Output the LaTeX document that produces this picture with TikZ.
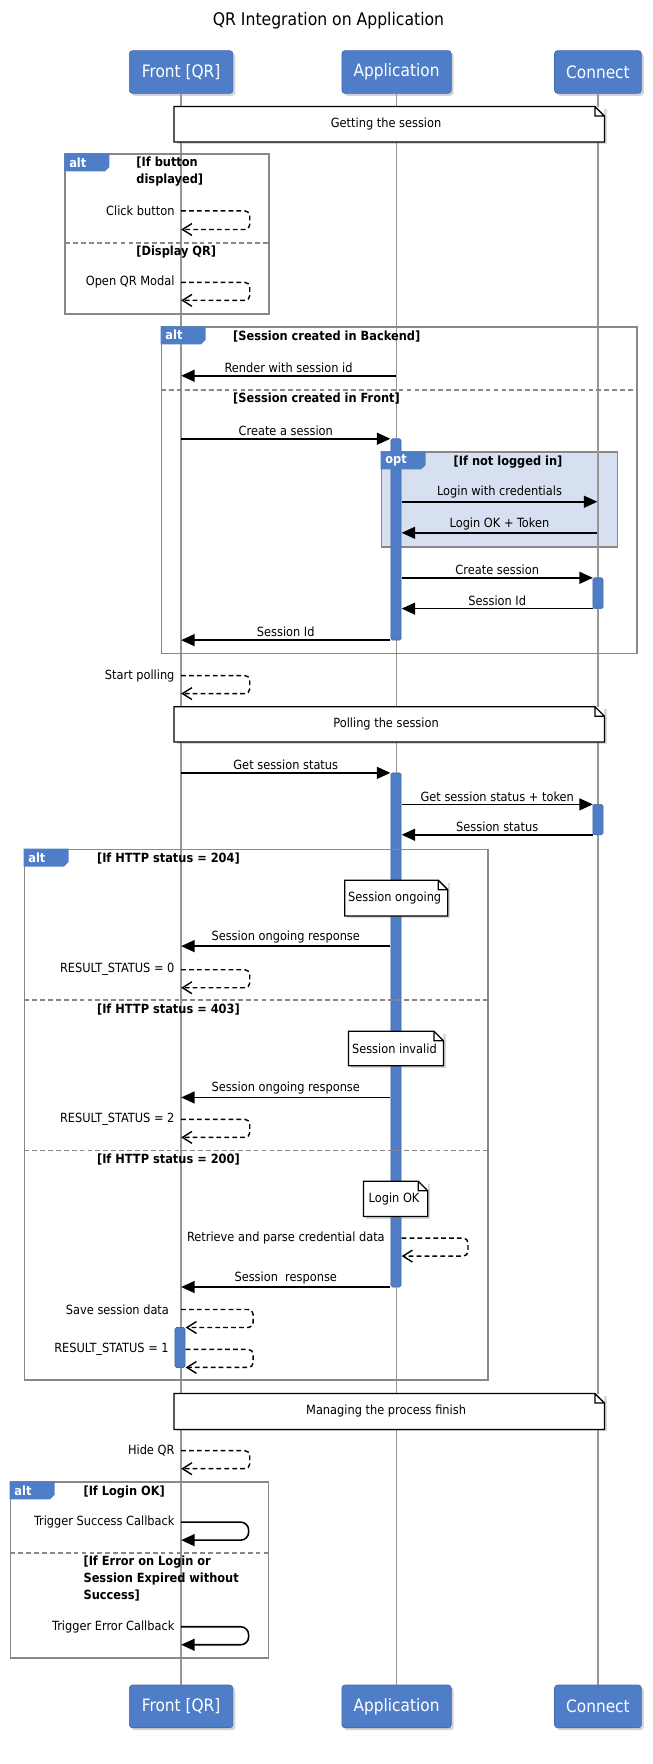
\documentclass[tikz,border=0pt]{standalone}
\usepackage{fontspec}
\setmainfont{DejaVu Sans Condensed}
\usepackage{tikz}
\usetikzlibrary{arrows.meta,positioning,fit,shadows}
\definecolor{umlblue}{RGB}{79,125,200}
\definecolor{optfill}{RGB}{214,224,240}
\definecolor{framegray}{RGB}{136,136,136}
\definecolor{linegray}{RGB}{150,150,150}

\begin{document}
\begin{tikzpicture}[
  x=0.025cm, y=-0.025cm,
  font=\fontsize{8}{10}\selectfont,
  actor/.style={draw=umlblue!85!black, fill=umlblue, rounded corners=2pt, minimum height=0.95cm, text=white,
    font=\fontsize{10.8}{13}\selectfont, drop shadow={shadow xshift=1.5pt, shadow yshift=-1.5pt, opacity=0.35}},
  lifeline/.style={draw=linegray, line width=0.9pt},
  act/.style={draw=umlblue!85!black, fill=umlblue, rounded corners=1pt, inner sep=0pt},
  note/.style={fill=white, inner sep=0pt, drop shadow={shadow xshift=1.5pt, shadow yshift=-1.5pt, opacity=0.3}},
  notepen/.style={draw=black, line width=0.8pt},
  frame/.style={draw=framegray, line width=1pt, inner sep=0pt},
  sep/.style={draw=framegray, line width=1pt, dash pattern=on 3pt off 2pt},
  tabtext/.style={text=white, font=\bfseries\fontsize{8}{10}\selectfont, inner sep=0pt},
  guard/.style={font=\bfseries\fontsize{8}{10.7}\selectfont, align=left, inner sep=0pt},
  lbl/.style={inner sep=1.5pt},
  msg/.style={line width=1pt, -{Triangle[length=8.5pt, width=7.5pt]}},
  selfmsg/.style={line width=0.9pt, dash pattern=on 3pt off 2pt, rounded corners=3pt, -{Straight Barb[length=6pt, width=7.5pt]}},
  callmsg/.style={line width=1pt, rounded corners=5pt, -{Triangle[length=8.5pt, width=7.5pt]}},
]
\useasboundingbox (0,0) rectangle (580,1568);

\node[font=\fontsize{11}{13}\selectfont] (title) at (292,18.4) {QR Integration on Application};

% participants
\node[actor, minimum width=2.3cm] (front) at (161,64) {Front [QR]};
\node[actor, minimum width=2.43cm] (app) at (352.5,64) {Application};
\node[actor, minimum width=1.93cm] (conn) at (531.5,64) {Connect};
\node[actor, minimum width=2.3cm] (frontb) at (161,1516.8) {Front [QR]};
\node[actor, minimum width=2.43cm] (appb) at (352.5,1516.8) {Application};
\node[actor, minimum width=1.93cm] (connb) at (531.5,1516.8) {Connect};

\node[frame, fill=optfill, fit={(339,402) (549,486)}] (opt) {};

\draw[lifeline] (front) -- (frontb);
\draw[lifeline] (app) -- (appb);
\draw[lifeline] (conn) -- (connb);

% activations
\node[act, fit={(347.5,390) (356.5,569)}] (act1) {};
\node[act, fit={(527,513.6) (536,541)}] (act2) {};
\node[act, fit={(347.5,687) (356.5,1144)}] (act3) {};
\node[act, fit={(527,715) (536,742)}] (act4) {};
\node[act, fit={(155.5,1180) (164.5,1215.5)}] (act5) {};

% frames
\node[frame, fit={(58,137) (239,279)}] (alt1) {};
\node[frame, fit={(143.5,290.7) (566,580.8)}] (alt2) {};
\node[frame, fit={(21.6,755) (434,1226.5)}] (alt3) {};
\node[frame, fit={(9.3,1317.4) (238.7,1473.8)}] (alt4) {};
\draw[sep] (58,216) -- (239,216);
\draw[sep] (143.5,346.7) -- (566,346.7);
\draw[sep] (21.6,888.7) -- (434,888.7);
\draw[sep] (21.6,1022.5) -- (434,1022.5);
\draw[sep] (9.3,1380.4) -- (238.7,1380.4);

\foreach \f/\t in {alt1/alt, alt2/alt, opt/opt, alt3/alt, alt4/alt} {
  \fill[umlblue] (\f.north west) -- ++(40,0) -- ++(0,12) -- ++(-4,4) -- ++(-36,0) -- cycle;
  \node[tabtext, anchor=west] (\f-tab) at ([shift={(4,8)}]\f.north west) {\t};
}

\node[guard, anchor=north west] (g1) at (121,139.5) {[If button\\displayed]};
\node[guard, anchor=west] (g2) at (121,224) {[Display QR]};
\node[guard, anchor=west] (g3) at (207,299) {[Session created in Backend]};
\node[guard, anchor=west] (g4) at (207,354.6) {[Session created in Front]};
\node[guard, anchor=west] (g5) at (403,410.6) {[If not logged in]};
\node[guard, anchor=west] (g6) at (86,763) {[If HTTP status = 204]};
\node[guard, anchor=west] (g7) at (86,897) {[If HTTP status = 403]};
\node[guard, anchor=west] (g8) at (86,1031) {[If HTTP status = 200]};
\node[guard, anchor=west] (g9) at (74,1326) {[If Login OK]};
\node[guard, anchor=north west] (g10) at (74,1382.5) {[If Error on Login or\\Session Expired without\\Success]};

% notes
\node[note, fit={(155,95) (537,126)}] (getting) {};
\node[note, fit={(155,628.5) (537,659.3)}] (polling) {};
\node[note, fit={(155,1239) (537,1270.3)}] (managing) {};
\node[note, fit={(306.7,782.7) (397.8,814)}] (ongoing) {};
\node[note, fit={(310,917) (394,947)}] (invalid) {};
\node[note, fit={(323.4,1050.3) (380,1081)}] (loginok) {};
\foreach \n in {getting, polling, managing, ongoing, invalid, loginok}
  \draw[notepen] (\n.south west) -- (\n.north west) -- ([xshift=-6pt]\n.north east)
    -- ([yshift=-6pt]\n.north east) -- (\n.south east) -- cycle
    ([xshift=-6pt]\n.north east) |- ([yshift=-6pt]\n.north east);
\node (gettingtxt) at ([xshift=-2pt]getting.center) {Getting the session};
\node (pollingtxt) at ([xshift=-2pt]polling.center) {Polling the session};
\node (managingtxt) at ([xshift=-2pt]managing.center) {Managing the process finish};
\node (ongoingtxt) at ([xshift=-1pt]ongoing.center) {Session ongoing};
\node (invalidtxt) at ([xshift=-1pt]invalid.center) {Session invalid};
\node (loginoktxt) at ([xshift=-1pt]loginok.center) {Login OK};

% messages
\coordinate (m1a) at (352,334); \coordinate (m1b) at (161,334);
\coordinate (m2a) at (161,390); \coordinate (m2b) at (347,390);
\coordinate (m3a) at (357,446); \coordinate (m3b) at (531,446);
\coordinate (m4a) at (531,473.6); \coordinate (m4b) at (357,473.6);
\coordinate (m5a) at (357,513.6); \coordinate (m5b) at (527,513.6);
\coordinate (m6a) at (527,541); \coordinate (m6b) at (357,541);
\coordinate (m7a) at (347,569); \coordinate (m7b) at (161,569);
\coordinate (m8a) at (161,687); \coordinate (m8b) at (347,687);
\coordinate (m9a) at (357,715); \coordinate (m9b) at (527,715);
\coordinate (m10a) at (527,742); \coordinate (m10b) at (357,742);
\coordinate (m11a) at (347,841); \coordinate (m11b) at (161,841);
\coordinate (m12a) at (347,975.5); \coordinate (m12b) at (161,975.5);
\coordinate (m13a) at (347,1144); \coordinate (m13b) at (161,1144);

\draw[msg] (m1a) -- node[lbl, above] (t1) {Render with session id} (m1b);
\draw[msg] (m2a) -- node[lbl, above] (t2) {Create a session} (m2b);
\draw[msg] (m3a) -- node[lbl, above] (t3) {Login with credentials} (m3b);
\draw[msg] (m4a) -- node[lbl, above] (t4) {Login OK + Token} (m4b);
\draw[msg] (m5a) -- node[lbl, above] (t5) {Create session} (m5b);
\draw[msg] (m6a) -- node[lbl, above] (t6) {Session Id} (m6b);
\draw[msg] (m7a) -- node[lbl, above] (t7) {Session Id} (m7b);
\draw[msg] (m8a) -- node[lbl, above] (t8) {Get session status} (m8b);
\draw[msg] (m9a) -- node[lbl, above] (t9) {Get session status + token} (m9b);
\draw[msg] (m10a) -- node[lbl, above] (t10) {Session status} (m10b);
\draw[msg] (m11a) -- node[lbl, above] (t11) {Session ongoing response} (m11b);
\draw[msg] (m12a) -- node[lbl, above] (t12) {Session ongoing response} (m12b);
\draw[msg] (m13a) -- node[lbl, above] (t13) {Session\ \ response} (m13b);

% self messages
\coordinate (s1a) at (161,187.5); \coordinate (s1b) at (161,204);
\coordinate (s2a) at (161,251); \coordinate (s2b) at (161,267);
\coordinate (s3a) at (161,600.5); \coordinate (s3b) at (161,616.5);
\coordinate (s4a) at (161,862); \coordinate (s4b) at (161,878);
\coordinate (s5a) at (161,995); \coordinate (s5b) at (161,1011);
\coordinate (s6a) at (357,1100.5); \coordinate (s6b) at (357,1116.5);
\coordinate (s7a) at (161,1164); \coordinate (s7b) at (165,1180);
\coordinate (s8a) at (165,1199.5); \coordinate (s8b) at (165,1215.5);
\coordinate (s9a) at (161,1289.5); \coordinate (s9b) at (161,1305.5);
\coordinate (s10a) at (161,1353); \coordinate (s10b) at (161,1369);
\coordinate (s11a) at (161,1446); \coordinate (s11b) at (161,1462);

\draw[selfmsg] (s1a) -- ++(61,0) |- (s1b);
\draw[selfmsg] (s2a) -- ++(61,0) |- (s2b);
\draw[selfmsg] (s3a) -- ++(61,0) |- (s3b);
\draw[selfmsg] (s4a) -- ++(61,0) |- (s4b);
\draw[selfmsg] (s5a) -- ++(61,0) |- (s5b);
\draw[selfmsg] (s6a) -- ++(59,0) |- (s6b);
\draw[selfmsg] (s7a) -- ++(64,0) |- (s7b);
\draw[selfmsg] (s8a) -- ++(60,0) |- (s8b);
\draw[selfmsg] (s9a) -- ++(61,0) |- (s9b);
\draw[callmsg] (s10a) -- ++(60,0) |- (s10b);
\draw[callmsg] (s11a) -- ++(60,0) |- (s11b);

\node[lbl, left=2.5pt of s1a] (u1) {Click button};
\node[lbl, left=2.5pt of s2a] (u2) {Open QR Modal};
\node[lbl, left=2.5pt of s3a] (u3) {Start polling};
\node[lbl, left=2.5pt of s4a] (u4) {RESULT\_STATUS = 0};
\node[lbl, left=2.5pt of s5a] (u5) {RESULT\_STATUS = 2};
\node[lbl, left=9pt of s6a] (u6) {Retrieve and parse credential data};
\node[lbl, left=6pt of s7a] (u7) {Save session data};
\node[lbl, left=9pt of s8a] (u8) {RESULT\_STATUS = 1};
\node[lbl, left=2.5pt of s9a] (u9) {Hide QR};
\node[lbl, left=2.5pt of s10a] (u10) {Trigger Success Callback};
\node[lbl, left=2.5pt of s11a] (u11) {Trigger Error Callback};
\end{tikzpicture}
\end{document}
